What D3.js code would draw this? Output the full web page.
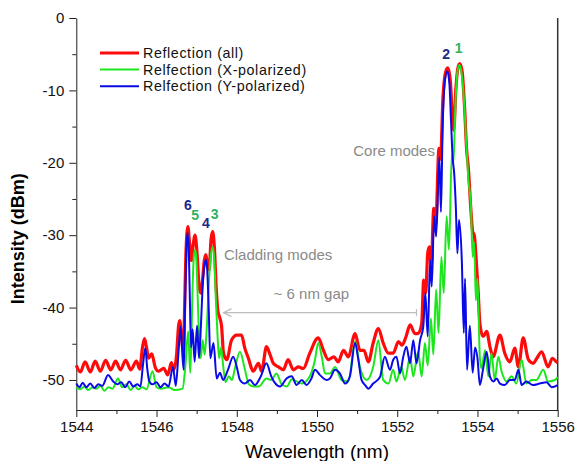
<!DOCTYPE html>
<html>
<head>
<meta charset="utf-8">
<script src="https://cdn.jsdelivr.net/npm/d3@7"></script>
<style>
  body { margin: 0; background: #fff; }
  text { font-family: "Liberation Sans", Arial, sans-serif; }
</style>
</head>
<body>
<div id="chart"></div>
<script>
// spectra: [wavelength (nm), intensity (dBm)]
var redSpectrum = [
  [1544.00,-48.0],[1544.10,-48.9],[1544.22,-47.5],[1544.35,-48.9],[1544.47,-47.4],[1544.60,-48.8],
  [1544.73,-47.3],[1544.86,-48.6],[1544.98,-47.4],[1545.10,-48.6],[1545.23,-47.3],[1545.36,-48.6],
  [1545.50,-47.4],[1545.58,-48.5],[1545.65,-45.5],[1545.70,-44.3],[1545.75,-45.5],[1545.80,-47.0],
  [1545.88,-46.4],[1545.97,-48.3],[1546.05,-48.8],[1546.18,-48.4],[1546.28,-49.3],[1546.37,-47.6],
  [1546.43,-48.6],[1546.50,-46.5],[1546.55,-42.5],[1546.58,-41.8],[1546.62,-44.0],[1546.67,-46.0],
  [1546.70,-40.0],[1546.73,-33.0],[1546.78,-28.8],[1546.83,-31.5],[1546.87,-33.5],[1546.91,-31.5],
  [1546.96,-30.0],[1547.01,-32.5],[1547.06,-37.0],[1547.10,-38.0],[1547.15,-36.0],[1547.19,-33.5],
  [1547.23,-32.7],[1547.27,-34.0],[1547.31,-34.8],[1547.36,-30.5],[1547.40,-29.5],[1547.44,-31.5],
  [1547.49,-37.5],[1547.53,-40.5],[1547.57,-41.3],[1547.62,-42.5],[1547.67,-46.3],[1547.75,-47.2],
  [1547.87,-44.5],[1548.00,-43.8],[1548.12,-43.8],[1548.20,-45.6],[1548.29,-47.0],[1548.41,-48.8],
  [1548.54,-47.7],[1548.62,-48.8],[1548.74,-45.4],[1548.83,-46.5],[1548.91,-47.7],[1549.04,-48.2],
  [1549.16,-48.6],[1549.28,-47.2],[1549.41,-48.6],[1549.53,-48.2],[1549.66,-48.4],[1549.82,-46.3],
  [1550.03,-44.2],[1550.16,-45.9],[1550.28,-47.2],[1550.42,-46.8],[1550.53,-47.5],[1550.66,-45.9],
  [1550.78,-46.8],[1550.95,-43.6],[1551.07,-45.9],[1551.17,-45.9],[1551.28,-47.5],[1551.40,-44.9],
  [1551.53,-42.9],[1551.65,-44.9],[1551.78,-46.3],[1551.90,-46.3],[1552.03,-44.7],[1552.12,-45.2],
  [1552.22,-44.0],[1552.32,-42.4],[1552.44,-43.6],[1552.52,-43.6],[1552.61,-42.2],[1552.66,-36.2],
  [1552.71,-38.0],[1552.76,-32.5],[1552.80,-31.6],[1552.85,-34.0],[1552.91,-26.3],[1552.96,-28.5],
  [1553.04,-18.0],[1553.08,-19.5],[1553.14,-11.0],[1553.20,-7.6],[1553.26,-6.9],[1553.32,-8.5],
  [1553.37,-13.0],[1553.41,-15.5],[1553.46,-10.0],[1553.51,-7.0],[1553.56,-6.3],[1553.62,-7.5],
  [1553.68,-12.5],[1553.73,-18.2],[1553.77,-20.5],[1553.84,-26.8],[1553.88,-29.5],[1553.92,-30.0],
  [1553.98,-34.4],[1554.02,-38.0],[1554.06,-42.2],[1554.14,-44.0],[1554.23,-43.3],[1554.31,-45.4],
  [1554.39,-46.8],[1554.56,-43.8],[1554.68,-46.3],[1554.81,-47.5],[1554.93,-45.6],[1555.02,-48.2],
  [1555.14,-44.2],[1555.27,-47.2],[1555.39,-47.7],[1555.48,-47.0],[1555.60,-46.1],[1555.76,-48.2],
  [1555.87,-47.0],[1555.97,-47.5],[1556.00,-47.6]
]

var greenSpectrum = [
  [1544.00,-51.0],[1544.10,-51.3],[1544.20,-50.9],[1544.30,-51.4],[1544.40,-51.0],[1544.50,-51.2],
  [1544.60,-50.8],[1544.70,-51.5],[1544.80,-51.0],[1544.90,-51.2],[1545.04,-49.8],[1545.14,-51.0],
  [1545.25,-50.6],[1545.35,-51.4],[1545.45,-50.8],[1545.55,-51.3],[1545.65,-51.0],[1545.75,-51.3],
  [1545.90,-48.8],[1546.00,-51.0],[1546.10,-51.2],[1546.30,-51.0],[1546.45,-51.4],[1546.65,-51.2],
  [1546.72,-48.0],[1546.79,-43.3],[1546.84,-49.0],[1546.87,-44.0],[1546.90,-37.0],[1546.93,-33.0],
  [1546.96,-32.0],[1546.99,-33.0],[1547.02,-37.5],[1547.06,-44.0],[1547.10,-47.0],[1547.15,-44.5],
  [1547.20,-46.5],[1547.26,-42.0],[1547.31,-36.0],[1547.35,-33.0],[1547.40,-31.6],[1547.44,-33.5],
  [1547.48,-39.0],[1547.52,-43.8],[1547.56,-47.0],[1547.61,-45.5],[1547.66,-48.0],[1547.72,-50.3],
  [1547.80,-49.5],[1547.88,-50.0],[1547.95,-48.5],[1548.08,-46.1],[1548.20,-48.5],[1548.30,-50.6],
  [1548.42,-50.9],[1548.55,-50.9],[1548.74,-49.8],[1548.86,-50.0],[1548.99,-49.1],[1549.12,-50.6],
  [1549.25,-50.9],[1549.37,-49.9],[1549.49,-50.2],[1549.62,-50.5],[1549.82,-49.5],[1549.95,-47.2],
  [1550.03,-44.9],[1550.12,-46.8],[1550.20,-49.1],[1550.32,-49.1],[1550.45,-48.2],[1550.61,-50.0],
  [1550.78,-50.2],[1550.95,-44.7],[1551.07,-48.2],[1551.24,-50.0],[1551.40,-48.2],[1551.53,-44.5],
  [1551.65,-50.0],[1551.78,-50.5],[1551.90,-48.6],[1551.98,-50.2],[1552.10,-48.2],[1552.19,-50.0],
  [1552.32,-46.8],[1552.40,-49.5],[1552.52,-46.1],[1552.61,-49.5],[1552.69,-44.9],[1552.76,-48.0],
  [1552.84,-41.5],[1552.90,-46.5],[1552.97,-37.5],[1553.03,-43.5],[1553.10,-33.0],[1553.16,-38.0],
  [1553.23,-27.4],[1553.29,-32.0],[1553.36,-18.9],[1553.40,-20.0],[1553.45,-12.0],[1553.50,-7.5],
  [1553.55,-6.5],[1553.60,-7.5],[1553.66,-11.0],[1553.73,-18.2],[1553.77,-22.0],[1553.84,-26.5],
  [1553.88,-33.0],[1553.92,-31.0],[1553.96,-39.0],[1554.00,-36.0],[1554.06,-47.0],[1554.10,-48.4],
  [1554.19,-45.9],[1554.27,-49.5],[1554.35,-46.3],[1554.43,-50.0],[1554.52,-46.8],[1554.60,-48.8],
  [1554.73,-50.2],[1554.85,-49.5],[1554.97,-50.5],[1555.10,-47.2],[1555.22,-50.5],[1555.35,-50.0],
  [1555.47,-50.0],[1555.64,-48.6],[1555.76,-50.2],[1555.93,-50.0],[1556.00,-49.6]
]

var blueSpectrum = [
  [1544.00,-50.5],[1544.08,-51.0],[1544.16,-50.4],[1544.25,-51.0],[1544.35,-50.5],[1544.45,-51.1],
  [1544.55,-50.6],[1544.65,-50.8],[1544.79,-49.3],[1544.92,-50.2],[1545.02,-50.6],[1545.12,-50.3],
  [1545.22,-51.0],[1545.32,-50.2],[1545.42,-50.9],[1545.52,-50.6],[1545.60,-50.9],[1545.66,-48.0],
  [1545.72,-45.6],[1545.77,-48.5],[1545.82,-50.2],[1545.90,-50.6],[1546.00,-50.3],[1546.10,-51.0],
  [1546.20,-50.5],[1546.30,-50.9],[1546.41,-48.2],[1546.48,-50.8],[1546.55,-46.0],[1546.60,-42.6],
  [1546.65,-47.0],[1546.68,-48.6],[1546.71,-40.0],[1546.74,-32.5],[1546.77,-29.7],[1546.80,-31.5],
  [1546.83,-38.5],[1546.86,-45.5],[1546.90,-43.0],[1546.95,-47.5],[1547.01,-42.5],[1547.06,-47.0],
  [1547.11,-42.0],[1547.16,-36.0],[1547.20,-34.0],[1547.23,-33.4],[1547.26,-34.5],[1547.30,-40.0],
  [1547.34,-47.0],[1547.42,-44.9],[1547.50,-49.8],[1547.58,-49.0],[1547.66,-50.0],[1547.78,-48.6],
  [1547.91,-46.8],[1548.00,-48.2],[1548.08,-50.0],[1548.20,-50.5],[1548.33,-50.0],[1548.45,-50.7],
  [1548.60,-49.5],[1548.74,-47.7],[1548.86,-49.5],[1548.95,-50.4],[1549.08,-50.9],[1549.24,-49.8],
  [1549.37,-49.5],[1549.49,-50.7],[1549.62,-50.0],[1549.74,-50.7],[1549.86,-49.8],[1549.95,-48.6],
  [1550.07,-49.3],[1550.24,-50.0],[1550.32,-49.8],[1550.45,-48.6],[1550.57,-49.1],[1550.70,-50.5],
  [1550.82,-49.5],[1550.95,-44.9],[1551.03,-47.2],[1551.11,-50.0],[1551.20,-50.7],[1551.28,-51.2],
  [1551.40,-50.5],[1551.57,-49.6],[1551.69,-46.8],[1551.82,-48.6],[1551.90,-47.2],[1551.98,-46.8],
  [1552.07,-49.1],[1552.15,-46.8],[1552.23,-45.4],[1552.32,-47.7],[1552.40,-44.5],[1552.48,-47.7],
  [1552.57,-44.5],[1552.65,-42.6],[1552.70,-38.0],[1552.76,-44.0],[1552.82,-33.4],[1552.86,-37.1],
  [1552.92,-27.4],[1552.97,-30.2],[1553.05,-19.2],[1553.09,-26.8],[1553.13,-15.5],[1553.19,-8.6],
  [1553.25,-7.4],[1553.30,-9.0],[1553.34,-14.1],[1553.38,-19.2],[1553.42,-21.5],[1553.46,-26.0],
  [1553.50,-32.5],[1553.54,-27.9],[1553.61,-33.5],[1553.66,-43.5],[1553.69,-36.0],[1553.74,-48.6],
  [1553.81,-42.5],[1553.88,-49.0],[1553.94,-45.5],[1554.00,-47.0],[1554.06,-50.7],[1554.14,-48.5],
  [1554.23,-46.1],[1554.31,-49.5],[1554.40,-50.2],[1554.48,-49.8],[1554.56,-50.5],[1554.68,-50.7],
  [1554.81,-50.0],[1554.93,-50.0],[1555.02,-48.6],[1555.10,-50.7],[1555.22,-50.2],[1555.38,-50.7],
  [1555.55,-50.5],[1555.72,-50.3],[1555.85,-51.0],[1556.00,-50.7]
]

var xTicks = [1544, 1546, 1548, 1550, 1552, 1554, 1556]
var xMinor = [1545, 1547, 1549, 1551, 1553, 1555]
var yTicks = [-50, -40, -30, -20, -10, 0]
var yMinor = [-45, -35, -25, -15, -5]

var legendLabels = ["Reflection (all)", "Relfection (X-polarized)", "Relfection (Y-polarized)"]
// [label, wavelength, dBm]
var modeLabels = [["6", 1546.78, -26.5], ["5", 1546.96, -27.9], ["4", 1547.23, -29.0],
                  ["3", 1547.45, -27.7], ["2", 1553.22, -5.6], ["1", 1553.53, -4.9]]

const margin = { top: 18, right: 18.3, bottom: 51, left: 76.3 };
const W = 576, H = 461;
const width = W - margin.left - margin.right;
const height = H - margin.top - margin.bottom;

const x = d3.scaleLinear().domain([1544, 1556]).range([0, width]);
const y = d3.scaleLinear().domain([-54.15, 0]).range([height, 0]);

var svg = d3.select("#chart")
    .append("svg")
    .attr("width", W)
    .attr("height", H)
    .append("g")
    .attr("transform", `translate(${margin.left},${margin.top})`)

// axes (plain hyphen for negatives, like the original)
const plain = d => String(d)

svg.append("g")
    .attr("transform", `translate(0,${height})`)
    .call(d3.axisBottom(x).tickValues(xTicks).tickFormat(plain).tickSizeInner(7).tickSizeOuter(0).tickPadding(4))
svg.append("g")
    .attr("transform", `translate(0,${height})`)
    .call(d3.axisBottom(x).tickValues(xMinor).tickFormat("").tickSizeInner(4).tickSizeOuter(0))
    .select(".domain").remove()

svg.append("g")
    .call(d3.axisLeft(y).tickValues(yTicks).tickFormat(plain).tickSizeInner(7).tickSizeOuter(0).tickPadding(5))
svg.append("g")
    .call(d3.axisLeft(y).tickValues(yMinor).tickFormat("").tickSizeInner(4).tickSizeOuter(0))
    .select(".domain").remove()

svg.selectAll(".tick text")
    .style("font-size", "15px")
    .style("font-family", "Liberation Sans, Arial, sans-serif")
    .attr("fill", "#111")
svg.selectAll(".domain, .tick line").attr("stroke", "#222")

// right frame line
svg.append("line")
    .attr("x1", width).attr("x2", width)
    .attr("y1", 0).attr("y2", height)
    .attr("stroke", "#333")
    .attr("stroke-width", 1.5)

// axis titles
svg.append("text")
    .attr("x", x(1550))
    .attr("y", height + 48)
    .attr("text-anchor", "middle")
    .style("font-size", "19px")
    .text("Wavelength (nm)")

svg.append("text")
    .attr("transform", `translate(${-margin.left + 24},${y(-30.5)}) rotate(-90)`)
    .attr("text-anchor", "middle")
    .style("font-size", "18px")
    .style("font-weight", "bold")
    .text("Intensity (dBm)")

// spectra
const line = d3.line()
    .x(d => x(d[0]))
    .y(d => y(d[1]))
    .curve(d3.curveMonotoneX)

svg.append("path")
    .datum(redSpectrum)
    .attr("fill", "none")
    .attr("stroke", "#ff0a0a")
    .attr("stroke-width", 3.2)
    .attr("stroke-linejoin", "round")
    .attr("d", line)

svg.append("path")
    .datum(greenSpectrum)
    .attr("fill", "none")
    .attr("stroke", "#1ee61e")
    .attr("stroke-width", 2)
    .attr("stroke-linejoin", "round")
    .attr("d", line)

svg.append("path")
    .datum(blueSpectrum)
    .attr("fill", "none")
    .attr("stroke", "#0a0ae6")
    .attr("stroke-width", 2)
    .attr("stroke-linejoin", "round")
    .attr("d", line)

// legend
var legendColors = ["#ff0a0a", "#1ee61e", "#0a0ae6"]
var legendWidths = [3.2, 2, 2]
var rowGap = 16.6
var legend = svg.append("g")
    .attr("transform", `translate(${100 - margin.left},${53 - margin.top})`)
legendLabels.forEach(function (label, i) {
    legend.append("line")
        .attr("x1", 0).attr("x2", 39)
        .attr("y1", i * rowGap).attr("y2", i * rowGap)
        .attr("stroke", legendColors[i])
        .attr("stroke-width", legendWidths[i])
    legend.append("text")
        .attr("x", 43)
        .attr("y", i * rowGap + 5)
        .style("font-size", "14.3px")
        .style("letter-spacing", "0.6px")
        .attr("fill", "#111")
        .text(label)
})

// mode numbers
svg.append("g")
    .selectAll("text")
    .data(modeLabels)
    .enter().append("text")
    .attr("x", d => x(d[1]))
    .attr("y", d => y(d[2]))
    .attr("text-anchor", "middle")
    .style("font-size", "14px")
    .style("font-weight", "bold")
    .attr("fill", d => (+d[0] % 2 === 0) ? "#1c2a8c" : "#30b060")
    .text(d => d[0])

// annotations
svg.append("text")
    .attr("x", x(1547.68))
    .attr("y", y(-33.4))
    .style("font-size", "15px")
    .attr("fill", "#8a8a8a")
    .text("Cladding modes")

svg.append("text")
    .attr("x", x(1552.94))
    .attr("y", y(-19.1))
    .attr("text-anchor", "end")
    .style("font-size", "15px")
    .attr("fill", "#8a8a8a")
    .text("Core modes")

svg.append("text")
    .attr("x", x(1549.86))
    .attr("y", y(-38.8))
    .attr("text-anchor", "middle")
    .style("font-size", "15px")
    .attr("fill", "#8a8a8a")
    .text("~ 6 nm gap")

// gap arrow
var gapY = y(-40.7)
var gapL = x(1547.67), gapR = x(1552.48)
svg.append("line")
    .attr("x1", gapL).attr("x2", gapR)
    .attr("y1", gapY).attr("y2", gapY)
    .attr("stroke", "#bdbdbd")
    .attr("stroke-width", 1.2)
svg.append("path")
    .attr("d", `M${gapL + 8},${gapY - 4} L${gapL},${gapY} L${gapL + 8},${gapY + 4}`)
    .attr("fill", "none")
    .attr("stroke", "#bdbdbd")
    .attr("stroke-width", 1.2)
svg.append("line")
    .attr("x1", gapR).attr("x2", gapR)
    .attr("y1", gapY - 3.5).attr("y2", gapY + 3.5)
    .attr("stroke", "#bdbdbd")
    .attr("stroke-width", 1.2)
</script>
</body>
</html>
